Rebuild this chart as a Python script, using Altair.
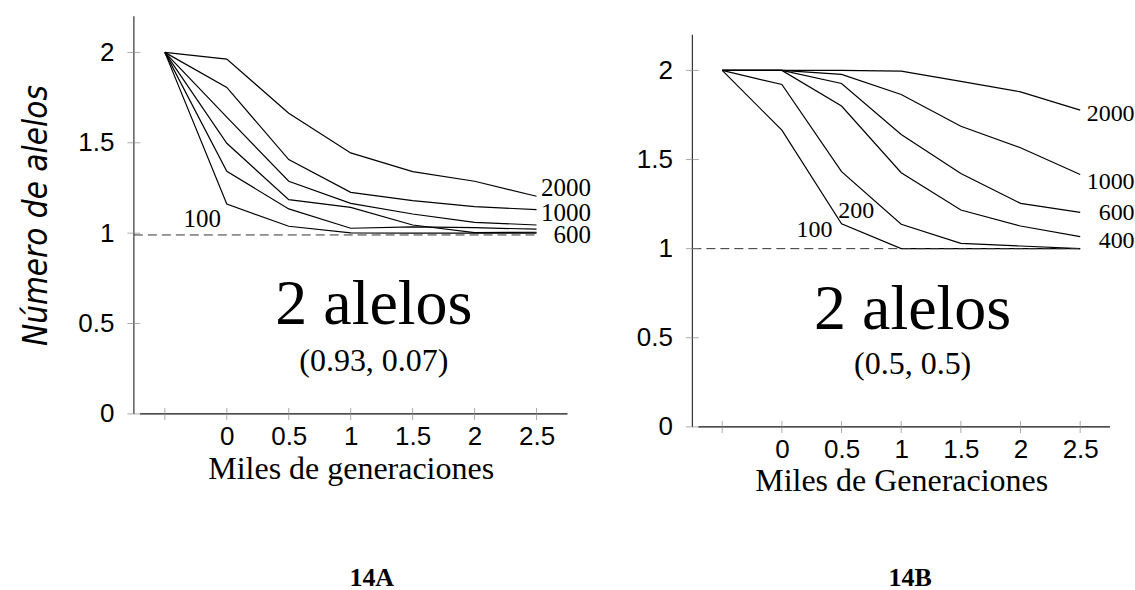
import altair as alt
import pandas as pd

# ---------------- data ----------------
gens = [-0.5, 0, 0.5, 1, 1.5, 2, 2.5]          # miles de generaciones
sizes = ["2000", "1000", "600", "400", "200", "100"]

# Panel 14A  (0.93, 0.07)
a_2000 = [2, 1.963, 1.663, 1.444, 1.340, 1.287, 1.204]
a_1000 = [2, 1.806, 1.407, 1.226, 1.180, 1.147, 1.130]
a_600 = [2, 1.642, 1.287, 1.165, 1.106, 1.060, 1.045]
a_400 = [2, 1.497, 1.185, 1.143, 1.045, 1.003, 1.005]
a_200 = [2, 1.342, 1.134, 1.027, 1.035, 1.030, 1.022]
a_100 = [2, 1.161, 1.038, 1.001, 1.000, 1.000, 1.000]

# Panel 14B  (0.5, 0.5)
b_2000 = [2, 2.000, 2.000, 1.996, 1.939, 1.880, 1.777]
b_1000 = [2, 2.000, 1.978, 1.865, 1.687, 1.566, 1.416]
b_600 = [2, 2.000, 1.927, 1.641, 1.422, 1.254, 1.204]
b_400 = [2, 2.000, 1.800, 1.426, 1.217, 1.127, 1.067]
b_200 = [2, 1.921, 1.432, 1.137, 1.030, 1.015, 1.000]
b_100 = [2, 1.665, 1.140, 1.000, 1.000, 1.000, 1.000]

x_label_vals = [0, 0.5, 1, 1.5, 2, 2.5]
x_tick_vals = [-0.5, 0, 0.5, 1, 1.5, 2, 2.5]
y_vals = [0, 0.5, 1, 1.5, 2]
x_domain = [-0.75, 2.75]
x_line_start = -0.7            # the x axis line starts just right of the y axis
axis_top = 2.2                 # top of the drawn y axis line
a_y_domain = [0, 2.2]
b_y_domain = [0, 2.304]        # panel B sits lower on the page

# line-end labels (text, x, baseline y)
a_end_labels = ["2000", "1000", "600"]
a_end_x = [2.94, 2.94, 2.94]
a_end_y = [1.207, 1.069, 0.944]
a_in_labels = ["100"]
a_in_x = [-0.349]
a_in_y = [1.032]

b_end_labels = ["2000", "1000", "600", "400"]
b_end_x = [2.956, 2.956, 2.956, 2.956]
b_end_y = [1.716, 1.333, 1.161, 1.005]
b_in_labels = ["200", "100"]
b_in_x = [0.473, 0.123]
b_in_y = [1.173, 1.065]

# annotations
a_big = ["2 alelos"]; a_big_x = [1.187]; a_big_y = [0.50]
a_freq = ["(0.93, 0.07)"]; a_freq_x = [1.187]; a_freq_y = [0.24]
a_tag = ["14A"]; a_tag_x = [1.17]; a_tag_y = [-0.95]
a_ref_y = [0.99]

b_big = ["2 alelos"]; b_big_x = [1.096]; b_big_y = [0.548]
b_freq = ["(0.5, 0.5)"]; b_freq_x = [1.096]; b_freq_y = [0.297]
b_tag = ["14B"]; b_tag_x = [1.075]; b_tag_y = [-0.89]
b_ref_y = [1.0]

SERIF = "Liberation Serif, Times New Roman, serif"
SANS = "Liberation Sans, Arial, sans-serif"
NARROW = "Liberation Sans Narrow, Arial Narrow, DejaVu Sans Condensed, sans-serif"


def long_df(series):
    rows = []
    for name, vals in zip(sizes, series):
        for g, v in zip(gens, vals):
            rows.append({"gen": g, "n": v, "size": name})
    return pd.DataFrame(rows)


def panel(series, y_domain, end_l, end_x, end_y, in_l, in_x, in_y, big, big_x, big_y,
          freq, freq_x, freq_y, tag, tag_x, tag_y, ref_y, xtitle, ytitle,
          width, height, title_pad, label_size):
    xs = alt.Scale(domain=x_domain, nice=False, zero=False)
    ys = alt.Scale(domain=y_domain, nice=False, zero=False)
    yaxis_kw = dict(values=y_vals, format="~g", ticks=False, tickSize=0, domain=False,
                    labelPadding=20, labelFont=SANS, labelFontSize=26,
                    labelColor="black", grid=False)
    if ytitle:
        yaxis_kw.update(title=ytitle, titleFont=NARROW, titleFontSize=33,
                        titleFontStyle="italic", titleFontWeight="normal",
                        titleColor="black", titlePadding=24)
    else:
        yaxis_kw.update(title=None)
    xaxis = alt.Axis(values=x_label_vals, format="~g", ticks=False, tickSize=0, domain=False,
                     labelPadding=10, labelFont=SANS, labelFontSize=26, labelColor="black",
                     grid=False,
                     title=xtitle, titleFont=SERIF, titleFontSize=32,
                     titleFontWeight="normal", titleColor="black", titlePadding=title_pad)
    yaxis = alt.Axis(**yaxis_kw)
    X = lambda f: alt.X(f, scale=xs, axis=xaxis)
    Y = lambda f: alt.Y(f, scale=ys, axis=yaxis)

    lines = alt.Chart(long_df(series)).mark_line(color="black", strokeWidth=1.2).encode(
        x=X("gen:Q"), y=Y("n:Q"), detail="size:N")
    yline = alt.Chart(pd.DataFrame({"gen": [x_domain[0]], "n0": [0], "n1": [axis_top]})).mark_rule(
        color="#333", strokeWidth=1.2).encode(x=X("gen:Q"), y=Y("n0:Q"), y2="n1:Q")
    xline = alt.Chart(pd.DataFrame({"g0": [x_line_start], "g1": [x_domain[1]], "n": [0]})).mark_rule(
        color="#111", strokeWidth=1.2).encode(x=X("g0:Q"), x2="g1:Q", y=Y("n:Q"))
    xt = alt.Chart(pd.DataFrame({"gen": x_tick_vals, "n": [0] * len(x_tick_vals)})).mark_tick(
        orient="vertical", size=12, thickness=1, color="#888").encode(x=X("gen:Q"), y=Y("n:Q"))
    yt = alt.Chart(pd.DataFrame({"gen": [x_domain[0]] * len(y_vals), "n": y_vals})).mark_tick(
        orient="horizontal", size=13, thickness=1, color="#888").encode(x=X("gen:Q"), y=Y("n:Q"))
    ref = alt.Chart(pd.DataFrame({"x0": [x_domain[0]], "x1": [2.5], "n": ref_y})).mark_rule(
        strokeDash=[9, 5], color="#333", strokeWidth=1).encode(x=X("x0:Q"), x2="x1:Q", y=Y("n:Q"))

    def txt(labels, xv, yv, align, font, size, weight="normal"):
        return alt.Chart(pd.DataFrame({"t": labels, "gen": xv, "n": yv})).mark_text(
            align=align, baseline="alphabetic", font=font, fontSize=size,
            fontWeight=weight, color="black").encode(x=X("gen:Q"), y=Y("n:Q"), text="t:N")

    layers = [lines, ref, yline, xline, xt, yt,
              txt(end_l, end_x, end_y, "right", SERIF, label_size),
              txt(in_l, in_x, in_y, "left", SERIF, label_size),
              txt(big, big_x, big_y, "center", SERIF, 64),
              txt(freq, freq_x, freq_y, "center", SERIF, 32),
              txt(tag, tag_x, tag_y, "center", SERIF, 26, "bold")]
    return alt.layer(*layers).properties(width=width, height=height)


left = panel([a_2000, a_1000, a_600, a_400, a_200, a_100], a_y_domain,
             a_end_labels, a_end_x, a_end_y, a_in_labels, a_in_x, a_in_y,
             a_big, a_big_x, a_big_y, a_freq, a_freq_x, a_freq_y,
             a_tag, a_tag_x, a_tag_y, a_ref_y,
             "Miles de generaciones", "Número de alelos", 434, 398, 4, 25)
right = panel([b_2000, b_1000, b_600, b_400, b_200, b_100], b_y_domain,
              b_end_labels, b_end_x, b_end_y, b_in_labels, b_in_x, b_in_y,
              b_big, b_big_x, b_big_y, b_freq, b_freq_x, b_freq_y,
              b_tag, b_tag_x, b_tag_y, b_ref_y,
              "Miles de Generaciones", None, 418, 411, 3, 24)

chart = alt.hconcat(left, right, spacing=44).properties(
    padding={"left": 20, "top": 15, "right": 0, "bottom": 0},
    background="white",
).configure_view(stroke=None)

chart.save("out.html", embed_options={"renderer": "svg", "actions": False})
